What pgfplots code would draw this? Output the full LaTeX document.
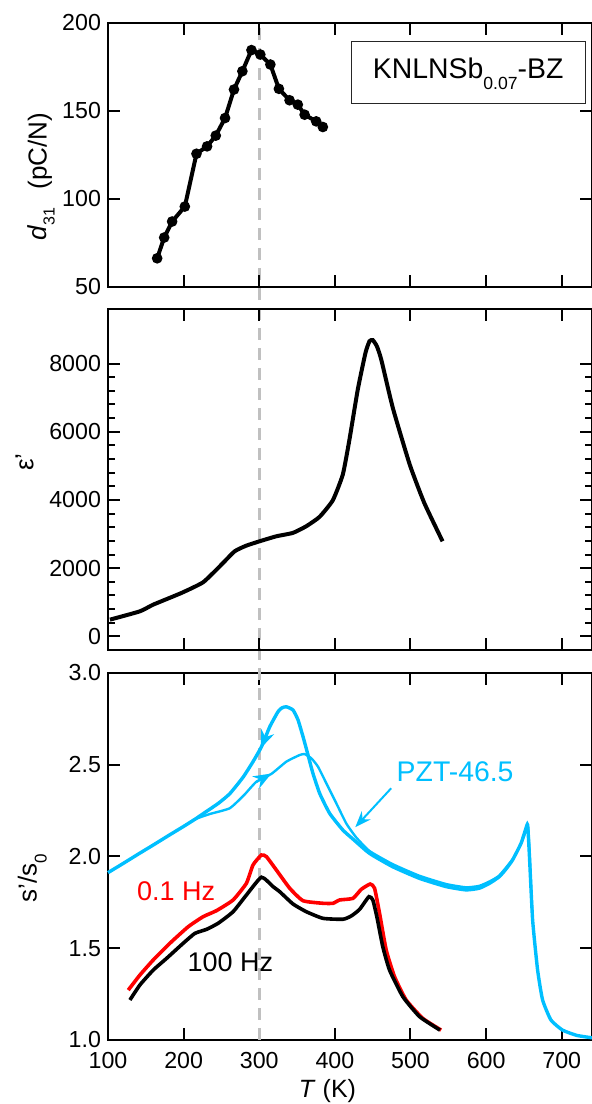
\documentclass[border=0pt]{standalone}
\usepackage{fontspec}
\setmainfont{Liberation Sans}
\usepackage{pgfplots}
\pgfplotsset{compat=1.18}
\usetikzlibrary{arrows.meta}
\definecolor{pzt}{RGB}{0,191,255}
\definecolor{refgray}{RGB}{192,192,192}
\newcommand\tfont{\fontsize{11.6}{13}\selectfont}
\newcommand\lfont{\fontsize{13}{15}\selectfont}

\pgfplotsset{
  panel/.style={
    scale only axis, width=242pt, anchor=north west,
    xmin=100, xmax=740, xtick={100,200,...,700},
    xtick pos=both, ytick pos=both, tick align=inside,
    major tick length=6pt, minor tick length=3.5pt,
    axis line style={line width=1pt}, tick style={black, line width=1pt},
    tick label style={font=\tfont},
    /pgf/number format/assume math mode=true,
    /pgf/number format/1000 sep={},
    scaled ticks=false,
  },
}

\begin{document}
\begin{tikzpicture}
\path[use as bounding box] (0,0) rectangle (296pt,552pt);

% s'/s0 panel first, so the dashed line at 300 K runs up behind the other panels
\begin{axis}[panel, at={(54pt,215.5pt)}, height=183.5pt,
  ymin=1, ymax=3, ytick={1,1.5,2,2.5,3},
  yticklabel style={/pgf/number format/.cd, fixed, fixed zerofill, precision=1},
  xticklabel style={yshift=-2.8pt},
  clip=false]
\addplot[refgray, line width=1.5pt, dash pattern=on 6pt off 4pt] coordinates {(300,1) (300,6.54)};
% PZT-46.5, outer branch
\addplot[pzt, line width=1.7pt, smooth, tension=0.3] coordinates {
(100,1.912) (120,1.962) (140,2.013) (160,2.063) (180,2.114) (200,2.164) (215,2.203)
(230,2.245) (246,2.29) (261,2.342) (278.6,2.432) (291.8,2.517) (302.9,2.598) (313.9,2.707)
(324.8,2.789) (330,2.81) (335.9,2.816) (344.7,2.798) (351.3,2.744) (357.9,2.653) (364.5,2.553)
(371,2.453) (379.9,2.344) (393.1,2.235) (410.6,2.144) (423.9,2.095) (445.8,2.017) (476.6,1.944)
(511.8,1.881) (547,1.836) (573.5,1.818) (591,1.827) (605,1.855) (617.5,1.89) (626,1.93)
(635,1.981) (646.2,2.072) (652.7,2.154) (654.9,2.172) (657.1,2.017) (661.5,1.654) (668.1,1.381)
(674.7,1.218) (685.7,1.109) (701,1.054) (720,1.025) (740,1.012)};
% PZT-46.5, inner branch
\addplot[pzt, line width=1.2pt, smooth, tension=0.3] coordinates {
(200,2.164) (215,2.203) (235,2.232) (261,2.263) (280,2.335) (296.3,2.408) (316,2.45) (335.9,2.517)
(353.5,2.553) (360,2.558) (368.9,2.535) (377.6,2.49) (388.6,2.40) (401.9,2.29) (415.1,2.18)
(428,2.105) (445.8,2.03) (476.6,1.958) (511.8,1.895) (547,1.85) (573.5,1.832) (591,1.84)
(605,1.865) (617.5,1.897) (635,1.985) (646.2,2.07) (652.7,2.14) (655.5,2.16) (657.5,2.02)
(661.5,1.654)};
\addplot[pzt, line width=1pt, -{Stealth[length=9pt,width=7pt]}] coordinates {(313,2.70) (302,2.59)};
\addplot[pzt, line width=1pt, -{Stealth[length=9pt,width=7pt]}] coordinates {(296,2.405) (316,2.452)};
\addplot[pzt, line width=1pt, -{Stealth[length=8pt,width=6pt]}] coordinates {(474.5,2.372) (427,2.16)};
% KNLNSb0.07-BZ, 0.1 Hz
\addplot[red, line width=1.8pt, smooth, tension=0.3] coordinates {
(126.8,1.272) (142.2,1.354) (159.8,1.436) (181.8,1.527) (206,1.617) (225.8,1.672) (243.5,1.705)
(265.4,1.763) (283,1.854) (291.8,1.954) (302.9,2.008) (309.5,1.999) (322.7,1.926) (340.3,1.827)
(357.9,1.759) (384.3,1.745) (397.5,1.745) (406.3,1.763) (423.9,1.772) (434.9,1.821) (446.8,1.850)
(452.5,1.827) (459.1,1.690) (467.9,1.490) (478.9,1.345) (494.3,1.218) (516.2,1.118) (540.5,1.054)};
% KNLNSb0.07-BZ, 100 Hz
\addplot[black, line width=1.8pt, smooth, tension=0.3] coordinates {
(129,1.218) (142.2,1.30) (159.8,1.381) (177.5,1.445) (199.4,1.527) (214.9,1.581) (230.3,1.603)
(245.6,1.636) (265.4,1.699) (283,1.79) (302.9,1.887) (318.2,1.836) (327.1,1.808) (344.7,1.741)
(362.3,1.699) (384.3,1.663) (410.7,1.658) (421.7,1.676) (432.7,1.712) (445,1.781) (450.2,1.763)
(455.5,1.672) (463.4,1.508) (472.3,1.381) (489.9,1.236) (512.1,1.127) (539,1.054)};
\node[font=\fontsize{14.2}{16}\selectfont, text=pzt, anchor=base] at (axis cs:559,2.408) {PZT-46.5};
\node[font=\fontsize{13.5}{15}\selectfont, text=red, anchor=base] at (axis cs:190,1.759) {0.1 Hz};
\node[font=\fontsize{13.5}{15}\selectfont, anchor=base] at (axis cs:261.7,1.372) {100 Hz};
\end{axis}

% permittivity panel
\begin{axis}[panel, at={(54pt,397.5pt)}, height=170.5pt,
  ymin=-400, ymax=9600, ytick={0,2000,4000,6000,8000}, minor y tick num=4,
  xticklabels={}]
\addplot[black, line width=2pt, smooth, tension=0.3] coordinates {
(102.6,490) (142.2,734) (159.8,930) (197.2,1273) (225.7,1585) (247.8,2054) (267.5,2494)
(283,2661) (300.5,2788) (322.5,2934) (344.5,3034) (362.1,3228) (379.7,3503) (397.3,3991)
(410.5,4745) (419.3,5772) (430.3,7239) (440.5,8316) (445.8,8657) (450.2,8686) (455.5,8510)
(461.3,8120) (476.6,6702) (499,5038) (518.2,3914) (542.4,2788)};
\end{axis}

% d31 panel
\begin{axis}[panel, at={(54pt,540.5pt)}, height=132pt,
  ymin=50, ymax=200, ytick={50,100,150,200},
  xticklabels={}]
\addplot[black, line width=2pt, mark=*, mark size=1.6pt] coordinates {
(165,66.3) (174.3,78.1) (184.8,87.2) (201.6,95.7) (217,125.7) (231,129.9) (242.5,136)
(254.8,146) (266.6,162.2) (277.7,172.6) (289.7,184.6) (301.4,182.1) (314.7,176.4) (326,162.6)
(340.1,156.1) (351,153.6) (360,147.9) (375.3,144.1) (384.1,140.9)};
\node[draw=black!85, line width=0.6pt, minimum width=117pt, minimum height=31pt, inner sep=0pt]
  at (axis cs:576.2,171.95) {};
\node[font=\fontsize{14.2}{16}\selectfont, anchor=base] at (axis cs:576.2,168.45)
  {KNLNSb\raisebox{-5.5pt}{\fontsize{8.8}{9}\selectfont 0.07}-BZ};
\end{axis}

% axis titles
\node[font=\lfont, rotate=90, anchor=base] at (23.3pt,463.75pt)
  {\textit{d}\raisebox{-4pt}{\fontsize{8}{9}\selectfont 31}\hspace{0.7em}(pC/N)};
\node[font=\lfont, rotate=90, anchor=base] at (16.7pt,321pt) {ε'};
\node[font=\lfont, rotate=90, anchor=base] at (18.3pt,112.8pt)
  {s'/s\raisebox{-5pt}{\fontsize{8.5}{9}\selectfont 0}};
\node[font=\fontsize{12.5}{14}\selectfont, anchor=base] at (163.75pt,3pt) {\textit{T} (K)};
\end{tikzpicture}
\end{document}
